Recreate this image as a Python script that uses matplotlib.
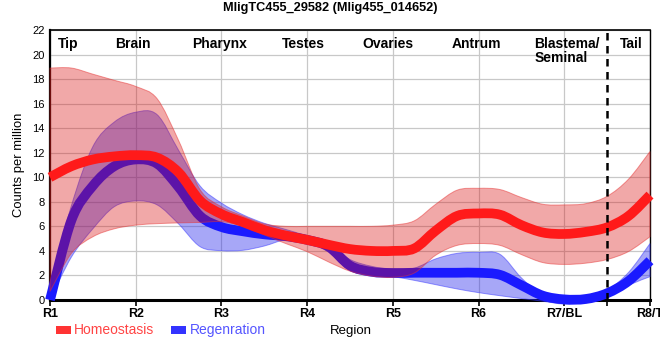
import numpy as np
import matplotlib
matplotlib.use("Agg")
import matplotlib.pyplot as plt
from matplotlib.path import Path
from matplotlib.patches import PathPatch, Rectangle

plt.rcParams['font.family'] = ['Liberation Sans', 'DejaVu Sans']

# ---------------- data ----------------
tick_labels = ["R1", "R2", "R3", "R4", "R5", "R6", "R7/BL", "R8/T"]
regions = ["Tip", "Brain", "Pharynx", "Testes", "Ovaries", "Antrum", "Blastema/\nSeminal", "Tail"]
region_pos = [0.21, 0.97, 1.98, 2.96, 3.94, 4.98, 5.65, 6.78]
t = [i * 0.25 for i in range(29)]

homeo_mean = [10.0, 10.9, 11.45, 11.7, 11.8, 11.6, 10.4, 8.1, 7.0, 6.35, 5.7, 5.25, 4.9, 4.5,
              4.15, 4.0, 4.0, 4.2, 5.65, 6.85, 7.05, 6.95, 6.1, 5.5, 5.38, 5.55, 5.92, 6.85, 8.55]
homeo_hi = [18.9, 18.9, 18.4, 17.9, 17.4, 16.4, 13.0, 9.0, 7.6, 6.85, 6.2, 6.0, 6.0, 6.0,
            6.0, 6.0, 6.1, 6.45, 7.8, 8.95, 9.1, 9.0, 8.35, 7.8, 7.75, 7.85, 8.45, 9.85, 12.1]
homeo_lo = [0.7, 3.8, 5.15, 5.8, 6.1, 6.22, 6.28, 6.32, 6.38, 6.0, 5.3, 4.6, 3.94, 3.1,
            2.35, 1.95, 1.85, 2.2, 3.65, 4.45, 4.6, 4.45, 3.7, 3.05, 2.9, 3.0, 3.3, 3.95, 5.15]

regen_mean = [0.0, 6.5, 9.3, 10.9, 11.45, 11.1, 9.2, 6.85, 5.95, 5.6, 5.35, 5.2, 4.9, 4.35,
              2.8, 2.3, 2.2, 2.22, 2.22, 2.22, 2.22, 2.05, 1.2, 0.35, 0.05, 0.08, 0.55, 1.55, 3.2]
regen_hi = [1.0, 7.7, 12.5, 14.5, 15.3, 15.1, 12.2, 9.3, 7.9, 6.95, 6.25, 5.75, 5.2, 4.5,
            3.3, 2.75, 2.5, 2.6, 3.35, 3.8, 3.88, 3.72, 1.8, 0.4, 0.27, 0.4, 0.82, 2.25, 4.6]
regen_lo = [0.0, 3.5, 5.8, 7.6, 8.07, 7.75, 6.2, 4.35, 4.02, 4.05, 4.4, 4.9, 4.7, 3.9,
            2.4, 2.05, 1.9, 1.6, 1.25, 0.9, 0.6, 0.35, 0.12, -0.1, -0.33, -0.2, 0.27, 1.2, 1.9]

divider = 6.5


def smooth(x, y):
    pts = np.column_stack([x, y]).astype(float)
    n = len(pts)
    verts = [pts[0]]
    codes = [Path.MOVETO]
    for i in range(n - 1):
        p0 = pts[max(i - 1, 0)]
        p1 = pts[i]
        p2 = pts[i + 1]
        p3 = pts[min(i + 2, n - 1)]
        verts += [p1 + (p2 - p0) / 6.0, p2 - (p3 - p1) / 6.0, p2]
        codes += [Path.CURVE4] * 3
    return verts, codes


def band_path(x, lo, hi):
    v1, c1 = smooth(x, hi)
    v2, c2 = smooth(x[::-1], lo[::-1])
    c2 = [Path.LINETO] + c2[1:]
    verts = v1 + v2 + [v1[0]]
    codes = c1 + c2 + [Path.CLOSEPOLY]
    return Path(verts, codes)


fig = plt.figure(figsize=(6.6, 3.6), dpi=100)
ax = fig.add_axes([50 / 660, 1 - 300 / 360, 600 / 660, 270 / 360])
ax.set_xlim(0, 7)
ax.set_ylim(0, 22)

ax.set_xticks(range(8))
ax.set_xticks([divider], minor=True)
ax.set_xticklabels(tick_labels, fontsize=9, fontweight='bold')
ax.set_yticks(range(0, 23, 2))
ax.tick_params(axis='y', labelsize=8, length=0, pad=4)
ax.tick_params(axis='x', which='both', length=4, width=1.2, pad=2, direction='out')
ax.grid(True, color='#c8c8c8', linewidth=0.9, zorder=0)
ax.set_axisbelow(True)

for s, lw in (('left', 1.6), ('bottom', 2.2), ('top', 1.2), ('right', 1.0)):
    ax.spines[s].set_linewidth(lw)
    ax.spines[s].set_color('black')
    ax.spines[s].set_zorder(2)

tt = np.array(t)
# regeneration band and line
ax.add_patch(PathPatch(band_path(tt, np.array(regen_lo), np.array(regen_hi)),
                       facecolor=(0.145, 0.145, 0.93, 0.4), edgecolor=(0.2, 0.2, 1.0, 0.5),
                       linewidth=0.7, zorder=3, clip_on=False))
v, c = smooth(tt, regen_mean)
ax.add_patch(PathPatch(Path(v, c), fill=False, edgecolor='#1a1aff', linewidth=7,
                       capstyle='butt', zorder=4, clip_on=False))
# homeostasis band and line
ax.add_patch(PathPatch(band_path(tt, np.array(homeo_lo), np.array(homeo_hi)),
                       facecolor=(0.85, 0.03, 0.03, 0.35), edgecolor=(0.9, 0.2, 0.2, 0.5),
                       linewidth=0.7, zorder=5, clip_on=False))
v, c = smooth(tt, homeo_mean)
ax.add_patch(PathPatch(Path(v, c), fill=False, edgecolor='#ff1a1a', linewidth=7,
                       capstyle='butt', zorder=6, clip_on=False))

ax.axvline(divider, color='black', linestyle=(0, (3, 2.2)), linewidth=1.8, zorder=7)

for name, pos in zip(regions, region_pos):
    if '\n' in name:
        ax.text(pos, 21.4, name, ha='left', va='top', fontsize=10, fontweight='bold',
                linespacing=1.0, zorder=8)
    else:
        ax.text(pos, 21.4, name, ha='center', va='top', fontsize=10, fontweight='bold', zorder=8)

fig.text(330 / 660, 1 - 8 / 360, "MligTC455_29582 (Mlig455_014652)", ha='center', va='center',
         fontsize=9.2, fontweight='bold')
fig.text(19 / 660, 1 - 165 / 360, "Counts per million", rotation=90, ha='center', va='center',
         fontsize=9.4)

# legend
fig.patches.append(Rectangle((56 / 660, 1 - 334 / 360), 15 / 660, 8 / 360,
                             transform=fig.transFigure, facecolor='#ff3333', edgecolor='none'))
fig.text(74 / 660, 1 - 330 / 360, "Homeostasis", ha='left', va='center', fontsize=10,
         color='#ff4444')
fig.patches.append(Rectangle((171 / 660, 1 - 334 / 360), 15 / 660, 8 / 360,
                             transform=fig.transFigure, facecolor='#3333ff', edgecolor='none'))
fig.text(190 / 660, 1 - 330 / 360, "Regenration", ha='left', va='center', fontsize=10,
         color='#5555ff')
fig.text(351 / 660, 1 - 331 / 360, "Region", ha='center', va='center', fontsize=9.5,
         color='black')

fig.savefig("out.png", dpi=100)
